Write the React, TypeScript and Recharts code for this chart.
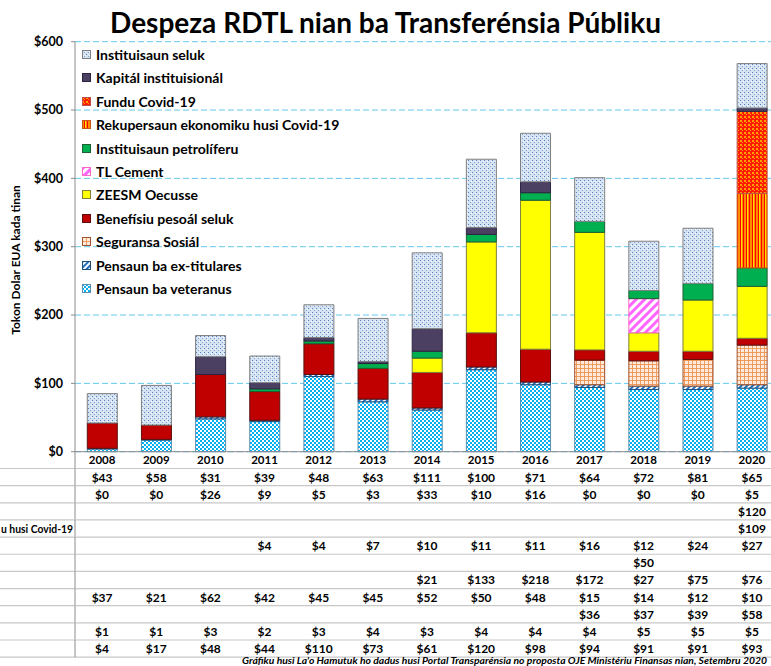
import React from "react";
import { BarChart, Bar, XAxis, YAxis, CartesianGrid } from "recharts";

const years = ["2008", "2009", "2010", "2011", "2012", "2013", "2014", "2015", "2016", "2017", "2018", "2019", "2020"];
const instituisaunSeluk = [43, 58, 31, 39, 48, 63, 111, 100, 71, 64, 72, 81, 65];
const kapitalInstituisional = [0, 0, 26, 9, 5, 3, 33, 10, 16, 0, 0, 0, 5];
const funduCovid = [null, null, null, null, null, null, null, null, null, null, null, null, 120];
const rekupersaunCovid = [null, null, null, null, null, null, null, null, null, null, null, null, 109];
const instituisaunPetroliferu = [null, null, null, 4, 4, 7, 10, 11, 11, 16, 12, 24, 27];
const tlCement = [null, null, null, null, null, null, null, null, null, null, 50, null, null];
const zeesmOecusse = [null, null, null, null, null, null, 21, 133, 218, 172, 27, 75, 76];
const beneficiuPesoal = [37, 21, 62, 42, 45, 45, 52, 50, 48, 15, 14, 12, 10];
const seguransaSosial = [null, null, null, null, null, null, null, null, null, 36, 37, 39, 58];
const pensaunExTitulares = [1, 1, 3, 2, 3, 4, 3, 4, 4, 4, 5, 5, 5];
const pensaunVeteranus = [4, 17, 48, 44, 110, 73, 61, 120, 98, 94, 91, 91, 93];
const yTicks = [0, 100, 200, 300, 400, 500, 600];

type Series = { key: string; name: string; values: (number | null)[]; fill: string; stroke: string };

// legend / table order (top to bottom)
const series: Series[] = [
  { key: "seluk", name: "Instituisaun seluk", values: instituisaunSeluk, fill: "url(#pSeluk)", stroke: "#7F7F7F" },
  { key: "kapital", name: "Kapitál instituisionál", values: kapitalInstituisional, fill: "#4B3F62", stroke: "#2B2340" },
  { key: "fundu", name: "Fundu Covid-19", values: funduCovid, fill: "url(#pFundu)", stroke: "#C0504D" },
  { key: "rekup", name: "Rekupersaun ekonomiku husi Covid-19", values: rekupersaunCovid, fill: "url(#pRekup)", stroke: "#C65911" },
  { key: "petrol", name: "Instituisaun petrolíferu", values: instituisaunPetroliferu, fill: "#00B050", stroke: "#1E5E32" },
  { key: "cement", name: "TL Cement", values: tlCement, fill: "url(#pCement)", stroke: "#FF66CC" },
  { key: "zeesm", name: "ZEESM Oecusse", values: zeesmOecusse, fill: "#FFFF00", stroke: "#7F7F3F" },
  { key: "benef", name: "Benefísiu pesoál seluk", values: beneficiuPesoal, fill: "#C00000", stroke: "#5A1010" },
  { key: "segur", name: "Seguransa Sosiál", values: seguransaSosial, fill: "url(#pSegur)", stroke: "#A0522D" },
  { key: "extit", name: "Pensaun ba ex-titulares", values: pensaunExTitulares, fill: "url(#pExtit)", stroke: "#1F4E79" },
  { key: "veter", name: "Pensaun ba veteranus", values: pensaunVeteranus, fill: "url(#pVeter)", stroke: "#5A8FB0" },
];

// Only the tail of the long row label is visible in the cropped table
const visibleRowLabel = "u husi Covid-19";
const visibleRowLabelIdx = 3;
const footerText =
  "Gráfiku husi La'o Hamutuk ho dadus husi Portal Transparénsia no proposta OJE Ministériu Finansas nian, Setembru 2020";

const data = years.map((y, i) => {
  const row: any = { year: y };
  series.forEach((s) => {
    row[s.key] = s.values[i];
  });
  return row;
});

const FONT = "Lato, 'Open Sans', sans-serif";
const CHART_W = 790;
const CHART_H = 666;
const PLOT_LEFT = 75;
const PLOT_TOP = 41.7;
const YEAR_H = 16.8;
const ROW_H = 17.15;
const GRID_BLUE = "#66C8EC";
const TABLE_LINE = "#C8C8C8";
const PLOT_BOTTOM_PAD = CHART_H - (451.7 + YEAR_H + ROW_H * 11);

const YearTick = (props: any) => {
  const { x, y, payload } = props;
  const idx = years.indexOf(String(payload.value));
  return (
    <g>
      {idx === 0 && <line x1={PLOT_LEFT} x2={PLOT_LEFT} y1={y} y2={y + YEAR_H} stroke="#8C8C8C" />}
      <text x={x} y={y + 8} textAnchor="middle" dominantBaseline="central" fontFamily={FONT} fontWeight={700} fontSize={11.5} fill="#000">
        {payload.value}
      </text>
    </g>
  );
};

const makeRowTick = (rowIdx: number) => (props: any) => {
  const { x, y, payload } = props;
  const idx = years.indexOf(String(payload.value));
  const s = series[rowIdx];
  const v = s.values[idx];
  const last = rowIdx === series.length - 1;
  return (
    <g>
      {idx === 0 && (
        <g>
          <line x1={0} x2={CHART_W} y1={y} y2={y} stroke={TABLE_LINE} strokeWidth={1.2} />
          {last && <line x1={0} x2={CHART_W} y1={y + ROW_H} y2={y + ROW_H} stroke={TABLE_LINE} strokeWidth={1.2} />}
          <line x1={PLOT_LEFT} x2={PLOT_LEFT} y1={y} y2={y + ROW_H} stroke="#8C8C8C" />
          {rowIdx === visibleRowLabelIdx && (
            <text
              x={1}
              y={y + ROW_H / 2}
              textLength={72}
              lengthAdjust="spacingAndGlyphs"
              dominantBaseline="central"
              fontFamily={FONT}
              fontWeight={700}
              fontSize={11.5}
              fill="#000"
            >
              {visibleRowLabel}
            </text>
          )}
        </g>
      )}
      {v !== null && v !== undefined && (
        <text x={x} y={y + ROW_H / 2} textAnchor="middle" dominantBaseline="central" fontFamily={FONT} fontWeight={700} fontSize={12} fill="#000">
          {"$" + v}
        </text>
      )}
    </g>
  );
};

const Patterns = () => (
  <svg width={0} height={0} style={{ position: "absolute" }}>
    <defs>
      <pattern id="pSeluk" width={4} height={4} patternUnits="userSpaceOnUse">
        <rect width={4} height={4} fill="#D6E3F3" />
        <rect x={0} y={0} width={1} height={1} fill="#4F7FBF" />
        <rect x={2} y={2} width={1} height={1} fill="#7FA3D3" />
        <rect x={3} y={1} width={1} height={1} fill="#FFFFFF" />
      </pattern>
      <pattern id="pFundu" width={4} height={4} patternUnits="userSpaceOnUse">
        <rect width={4} height={4} fill="#FF1A00" />
        <rect x={0} y={0} width={2} height={2} fill="#FFA000" />
        <rect x={2} y={2} width={1} height={1} fill="#FFA000" />
      </pattern>
      <pattern id="pRekup" width={6} height={4} patternUnits="userSpaceOnUse">
        <rect width={6} height={4} fill="#FF8C00" />
        <rect x={2} y={0} width={1} height={4} fill="#FF0000" />
        <rect x={3} y={0} width={1} height={4} fill="#FFE000" />
        <rect x={5} y={0} width={1} height={4} fill="#FF0000" />
      </pattern>
      <pattern id="pCement" width={6} height={6} patternUnits="userSpaceOnUse" patternTransform="rotate(-45)">
        <rect width={6} height={6} fill="#FFFFFF" />
        <rect x={0} y={0} width={6} height={3} fill="#FF66FF" />
      </pattern>
      <pattern id="pSegur" width={4} height={4} patternUnits="userSpaceOnUse">
        <rect width={4} height={4} fill="#FDEBDD" />
        <rect x={0} y={0} width={4} height={1} fill="#F29A5B" />
        <rect x={0} y={0} width={1} height={4} fill="#F29A5B" />
      </pattern>
      <pattern id="pExtit" width={4} height={4} patternUnits="userSpaceOnUse" patternTransform="rotate(45)">
        <rect width={4} height={4} fill="#FFFFFF" />
        <rect x={0} y={0} width={2} height={4} fill="#1F6FC0" />
      </pattern>
      <pattern id="pVeter" width={4} height={4} patternUnits="userSpaceOnUse">
        <rect width={4} height={4} fill="#FFFFFF" />
        <rect x={0} y={0} width={2} height={2} fill="#00B0F0" />
        <rect x={2} y={2} width={2} height={2} fill="#00B0F0" />
      </pattern>
    </defs>
  </svg>
);

const stackOrder = [...series].reverse();
const rowId = (i: number) => "r" + String(i).padStart(2, "0");

export default function App() {
  return (
    <div style={{ position: "absolute", left: 0, top: 0, width: 771, height: 666, overflow: "hidden", background: "#fff", fontFamily: FONT }}>
      <Patterns />
      <div style={{ position: "absolute", left: 0, top: 0 }}>
        <BarChart
          width={CHART_W}
          height={CHART_H}
          data={data}
          margin={{ top: PLOT_TOP, right: CHART_W - 779, left: 0, bottom: PLOT_BOTTOM_PAD }}
          barCategoryGap="22.7%"
        >
          <CartesianGrid horizontal={true} vertical={false} stroke={GRID_BLUE} strokeDasharray="6 3" />
          <YAxis
            width={PLOT_LEFT}
            domain={[0, 600]}
            ticks={yTicks}
            interval={0}
            tickFormatter={(v: number) => "$" + v}
            axisLine={{ stroke: "#8C8C8C" }}
            tickLine={{ stroke: "#8C8C8C" }}
            tickSize={4}
            tickMargin={8}
            tick={{ fontFamily: FONT, fontWeight: 700, fontSize: 12.5, fill: "#000" }}
          />
          <XAxis
            xAxisId="main"
            dataKey="year"
            height={YEAR_H}
            interval={0}
            tickLine={false}
            tickSize={0}
            tickMargin={0}
            axisLine={{ stroke: "#8C8C8C" }}
            tick={<YearTick />}
          />
          {series.map((s, i) => (
            <XAxis
              key={rowId(i)}
              xAxisId={rowId(i)}
              dataKey="year"
              height={ROW_H}
              interval={0}
              tickLine={false}
              tickSize={0}
              tickMargin={0}
              axisLine={false}
              tick={makeRowTick(i)}
            />
          ))}
          {stackOrder.map((s) => (
            <Bar
              key={s.key}
              dataKey={s.key}
              name={s.name}
              xAxisId="main"
              stackId="a"
              fill={s.fill}
              stroke={s.stroke}
              strokeWidth={1}
              isAnimationActive={false}
            />
          ))}
        </BarChart>
      </div>

      {/* Title */}
      <div
        style={{
          position: "absolute",
          left: 0,
          width: 771,
          top: 4,
          textAlign: "center",
          fontFamily: FONT,
          fontWeight: 700,
          fontSize: 28,
          lineHeight: "36px",
          color: "#000",
          whiteSpace: "nowrap",
        }}
      >
        Despeza RDTL nian ba Transferénsia Públiku
      </div>

      {/* Y axis title */}
      <svg width={30} height={400} style={{ position: "absolute", left: 0, top: 60 }}>
        <text
          x={15}
          y={200}
          transform="rotate(-90 15 200)"
          textAnchor="middle"
          dominantBaseline="central"
          fontFamily={FONT}
          fontWeight={700}
          fontSize={12}
          fill="#000"
        >
          Tokon Dolar EUA kada tinan
        </text>
      </svg>

      {/* Legend */}
      <div style={{ position: "absolute", left: 82, top: 43 }}>
        {series.map((s, i) => (
          <div key={s.key} style={{ position: "absolute", left: 0, top: i * 23.4, height: 23, display: "flex", alignItems: "center", whiteSpace: "nowrap" }}>
            <svg width={9} height={9} style={{ marginRight: 5 }}>
              <rect x={0.5} y={0.5} width={8} height={8} fill={s.fill} stroke={s.stroke} strokeWidth={1} />
            </svg>
            <span style={{ fontFamily: FONT, fontWeight: 700, fontSize: 14, color: "#000" }}>{s.name}</span>
          </div>
        ))}
      </div>

      {/* Footer */}
      <svg width={771} height={12} style={{ position: "absolute", left: 0, top: 654 }}>
        <text
          x={242}
          y={10.2}
          textLength={525}
          lengthAdjust="spacingAndGlyphs"
          fontFamily={FONT}
          fontWeight={700}
          fontStyle="italic"
          fontSize={8.5}
          fill="#000"
        >
          {footerText}
        </text>
      </svg>
    </div>
  );
}
